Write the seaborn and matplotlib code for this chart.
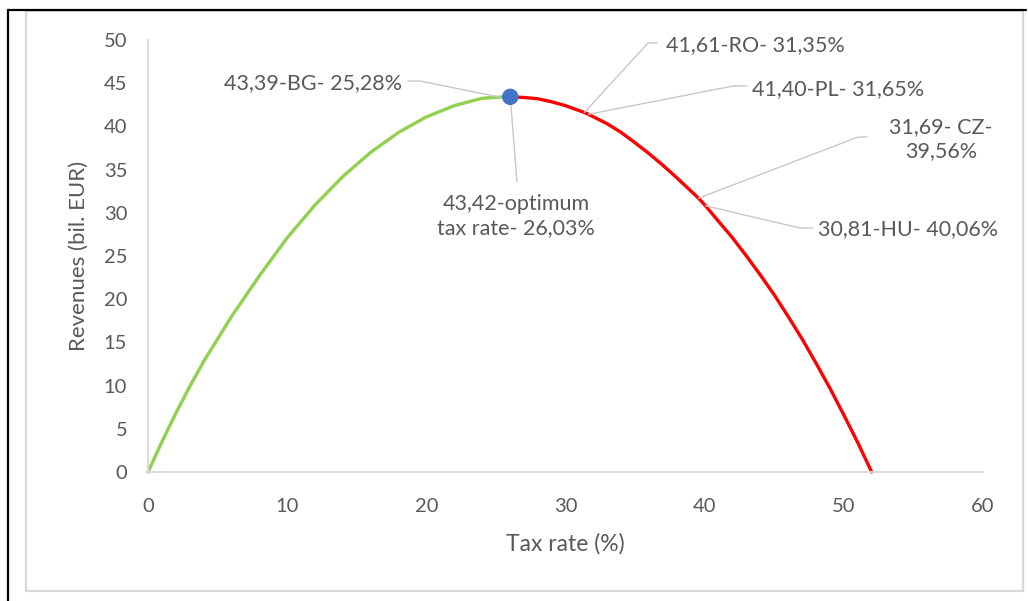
import matplotlib
matplotlib.use("Agg")
import matplotlib.pyplot as plt
from matplotlib.lines import Line2D
from matplotlib.patches import Rectangle
import seaborn as sns
import pandas as pd

# Laffer curve: tax rate (%) vs revenues (bil. EUR)
rising_rate = [0, 1, 2, 3, 4, 6, 8, 10, 12, 14, 16, 18, 20, 22, 24, 25.28, 26.03]
rising_rev = [0, 3.5, 6.8, 9.9, 12.8, 18.0, 22.7, 27.1, 30.9, 34.2, 37.0, 39.3, 41.1, 42.4, 43.25, 43.39, 43.42]

falling_rate = [26.03, 27, 28, 29, 30, 31.35, 31.65, 33, 34, 35, 36, 37, 38, 39.56, 40.06, 41, 42, 43, 44, 45, 46, 47, 48, 49, 50, 51, 52]
falling_rev = [43.42, 43.35, 43.2, 42.85, 42.4, 41.61, 41.40, 40.3, 39.3, 38.1, 36.85, 35.5, 34.05, 31.69, 30.81, 29.0, 27.1, 25.0, 22.8, 20.5, 18.0, 15.4, 12.6, 9.7, 6.6, 3.4, 0]

optimum_rate = [26.03]
optimum_rev = [43.42]

# country points labelled on the curve
countries = ["BG", "RO", "PL", "CZ", "HU"]
country_rate = [25.28, 31.35, 31.65, 39.56, 40.06]
country_rev = [43.39, 41.61, 41.40, 31.69, 30.81]

x_ticks = [0, 10, 20, 30, 40, 50, 60]
y_ticks = [0, 5, 10, 15, 20, 25, 30, 35, 40, 45, 50]

sns.set_theme(style="white")
plt.rcParams["font.family"] = ["Lato", "DejaVu Sans"]

TEXT = "#595959"
GRID = "#d9d9d9"
LEADER = "#c8c8c8"

fig = plt.figure(figsize=(10.28, 6.01), dpi=100)
ax = fig.add_axes([148 / 1028, 1 - 472 / 601, (983 - 148) / 1028, (472 - 40) / 601])

rise = pd.DataFrame({"rate": rising_rate, "rev": rising_rev})
fall = pd.DataFrame({"rate": falling_rate, "rev": falling_rev})
sns.lineplot(data=rise, x="rate", y="rev", ax=ax, color="#92D050", lw=2.4, sort=False)
sns.lineplot(data=fall, x="rate", y="rev", ax=ax, color="#FF0000", lw=2.4, sort=False)
sns.scatterplot(x=optimum_rate, y=optimum_rev, ax=ax, color="#4472C4", s=140,
                edgecolor="none", zorder=5)

ax.set_xlim(0, 60)
ax.set_ylim(0, 50)
ax.set_xticks(x_ticks)
ax.set_yticks(y_ticks)
ax.tick_params(axis="both", length=0, labelsize=14.5, labelcolor=TEXT)
ax.tick_params(axis="x", pad=19)
ax.tick_params(axis="y", pad=15)
for side in ("top", "right"):
    ax.spines[side].set_visible(False)
for side in ("left", "bottom"):
    ax.spines[side].set_color(GRID)
    ax.spines[side].set_linewidth(1.3)
ax.set_xlabel("Tax rate (%)", fontsize=16.5, color=TEXT, labelpad=13)
ax.set_ylabel("Revenues (bil. EUR)", fontsize=16, color=TEXT, labelpad=11)


def fmt(v):
    return f"{v:.2f}".replace(".", ",")


def px(x, y):
    # figure pixel (from top-left) to data coordinates
    return (x - 148) / (835 / 60), (472 - y) / (432 / 50)


def leader(rate, rev, elbow, end):
    ex, ey = px(*elbow)
    tx, ty = px(*end)
    ax.plot([rate, ex, tx], [rev, ey, ty], color=LEADER, lw=1.0, zorder=3)


label_kw = dict(fontsize=15.5, color=TEXT, va="center")

# BG
i = 0
leader(country_rate[i], country_rev[i], (420, 81), (408, 81))
ax.text(*px(402, 83), f"{fmt(country_rev[i])}-{countries[i]}- {fmt(country_rate[i])}%",
        ha="right", **label_kw)

# optimum
ax.plot([optimum_rate[0], px(517, 182)[0]], [optimum_rev[0], px(517, 182)[1]],
        color=LEADER, lw=1.0, zorder=3)
ax.text(*px(516, 216), f"{fmt(optimum_rev[0])}-optimum\ntax rate- {fmt(optimum_rate[0])}%",
        ha="center", multialignment="center", linespacing=1.3, **label_kw)

# RO
i = 1
leader(country_rate[i], country_rev[i], (648, 43), (657, 43))
ax.text(*px(666, 45), f"{fmt(country_rev[i])}-{countries[i]}- {fmt(country_rate[i])}%",
        ha="left", **label_kw)

# PL
i = 2
leader(country_rate[i], country_rev[i], (733, 86), (747, 86))
ax.text(*px(752, 89), f"{fmt(country_rev[i])}-{countries[i]}- {fmt(country_rate[i])}%",
        ha="left", **label_kw)

# CZ
i = 3
leader(country_rate[i], country_rev[i], (858, 137), (867, 137))
ax.text(*px(941, 139), f"{fmt(country_rev[i])}- {countries[i]}-\n{fmt(country_rate[i])}%",
        ha="center", multialignment="center", linespacing=1.3, **label_kw)

# HU
i = 4
leader(country_rate[i], country_rev[i], (800, 228), (813, 228))
ax.text(*px(818, 229), f"{fmt(country_rev[i])}-{countries[i]}- {fmt(country_rate[i])}%",
        ha="left", **label_kw)

for art in ax.lines:
    art.set_clip_on(False)

# chart frame
W, H = 1028, 601
fig.add_artist(Rectangle((26 / W, 1 - 591 / H), (1023 - 26) / W, (591 - 11) / H,
                         transform=fig.transFigure, fill=False, edgecolor=GRID, lw=1.6))
fig.add_artist(Line2D([8 / W, 8 / W], [0, 1 - 9.5 / H], transform=fig.transFigure,
                      color="black", lw=1.6))
fig.add_artist(Line2D([8 / W, 1026 / W], [1 - 9.5 / H, 1 - 9.5 / H], transform=fig.transFigure,
                      color="black", lw=1.6))

fig.savefig("out.png", dpi=100, facecolor="white")
